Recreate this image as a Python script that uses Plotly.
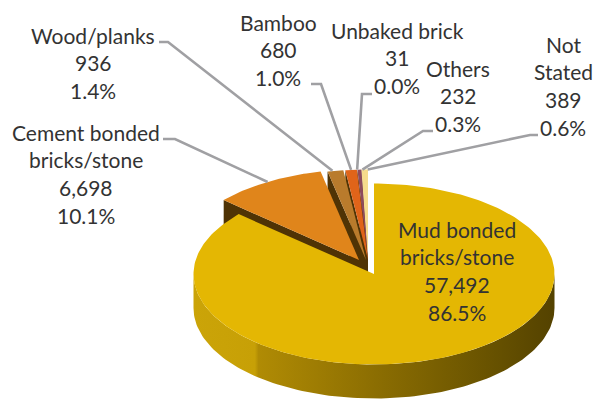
import numpy as np
import plotly.graph_objects as go

# Dwellings by wall material
categories = ["Mud bonded bricks/stone", "Cement bonded bricks/stone", "Wood/planks",
              "Bamboo", "Unbaked brick", "Others", "Not Stated"]
values = [57492, 6698, 936, 680, 31, 232, 389]

# Wrapped label lines for each category
name_lines = [["Mud bonded", "bricks/stone"], ["Cement bonded", "bricks/stone"], ["Wood/planks"],
              ["Bamboo"], ["Unbaked brick"], ["Others"], ["Not", "Stated"]]

# Drawing style, in page pixels
WIDTH, HEIGHT = 593, 399
CX, CY, RX, RY, DEPTH = 374.0, 274.0, 180.5, 90.5, 34.0
slice_colors = ["#E4B703", "#E0851B", "#B97B2C", "#E0641A", "#C0504D", "#8E4A5C", "#F6DB8C"]
wall_color = "#4F3305"
offset_x = [0, -15, -8, -6, -6, -6, -6]
offset_y = [0, -14, -14, -14, -14, -14, -14]
label_x = [457, 86, 93, 278, 397, 458, 563]
label_y = [229, 132, 35, 22, 30, 68, 44]
LINE_STEP = 27.8
leader_elbows = [None, [(163, 139), (175, 139)], [(159, 42), (168, 42)], [(311, 84), (321, 84)],
                 [(372, 94), (362, 94)], [(433, 131), (423, 131)], [(538, 135), (530, 135)]]
leader_nudge = [0, 0, -3, 0, 0, 3, 3]

total = sum(values)
edges = np.concatenate([[0.0], np.cumsum(values) / total * 360.0])


def rim(angle, dx=0.0, dy=0.0):
    t = np.radians(angle)
    return CX + dx + RX * np.sin(t), CY + dy - RY * np.cos(t)


def polygon(xs, ys, color, **extra):
    return go.Scatter(x=list(xs), y=list(ys), mode="lines", fill="toself", fillcolor=color,
                      line=dict(width=0), hoverinfo="skip", showlegend=False, **extra)


fig = go.Figure()

# Exploded slices, back to front, so each one overlaps the slice to its right
for i in range(len(values) - 1, 0, -1):
    a0, a1 = edges[i], edges[i + 1]
    dx, dy = offset_x[i], offset_y[i]
    ax, ay = CX + dx, CY + dy
    ex, ey = rim(a0, dx, dy)
    fig.add_trace(polygon([ax, ex, ex, ax, ax], [ay, ey, ey + DEPTH, ay + DEPTH, ay], wall_color))
    angles = np.linspace(a0, a1, 40)
    px, py = rim(angles, dx, dy)
    fig.add_trace(polygon(np.r_[ax, px, ax], np.r_[ay, py, ay], slice_colors[i]))

# Main slice: shaded front wall, then the top face
front = np.linspace(90, 270, 120)
fx, fy = rim(front)
fig.add_trace(polygon(
    np.r_[fx, fx[::-1], fx[0]], np.r_[fy, fy[::-1] + DEPTH, fy[0]], "#8A6C02",
    fillgradient=dict(type="horizontal", colorscale=[
        [0.0, "#CBA408"], [0.17, "#C7A006"], [0.18, "#B08B04"],
        [0.5, "#8C6E02"], [0.85, "#655000"], [1.0, "#544200"]]),
))
top = np.linspace(edges[0], edges[1], 240)
tx, ty = rim(top)
fig.add_trace(polygon(np.r_[CX, tx, CX], np.r_[CY, ty, CY], slice_colors[0]))

# Leader lines run from each label to the middle of its slice's outer edge
for i, elbow in enumerate(leader_elbows):
    if elbow is None:
        continue
    mid = (edges[i] + edges[i + 1]) / 2
    ex, ey = rim(mid, offset_x[i], offset_y[i])
    ex += leader_nudge[i]
    xs = [p[0] for p in elbow] + [ex]
    ys = [p[1] for p in elbow] + [ey]
    fig.add_trace(go.Scatter(x=xs, y=ys, mode="lines", line=dict(color="#A0A0A3", width=2.6),
                             hoverinfo="skip", showlegend=False))

# Labels: name, count and share, one row each
for i, v in enumerate(values):
    rows = name_lines[i] + [f"{v:,}", f"{v / total * 100:.1f}%"]
    for r, row in enumerate(rows):
        fig.add_annotation(x=label_x[i], y=label_y[i] + r * LINE_STEP, text=row, showarrow=False,
                           xanchor="center", yanchor="middle",
                           font=dict(family="Lato", size=21, color="#333333"))

fig.update_xaxes(range=[0, WIDTH], visible=False, fixedrange=True)
fig.update_yaxes(range=[HEIGHT, 0], visible=False, fixedrange=True)
fig.update_layout(width=WIDTH, height=HEIGHT, margin=dict(l=0, r=0, t=0, b=0),
                  paper_bgcolor="white", plot_bgcolor="white")
fig.write_html("out.html", config=dict(displayModeBar=False))
